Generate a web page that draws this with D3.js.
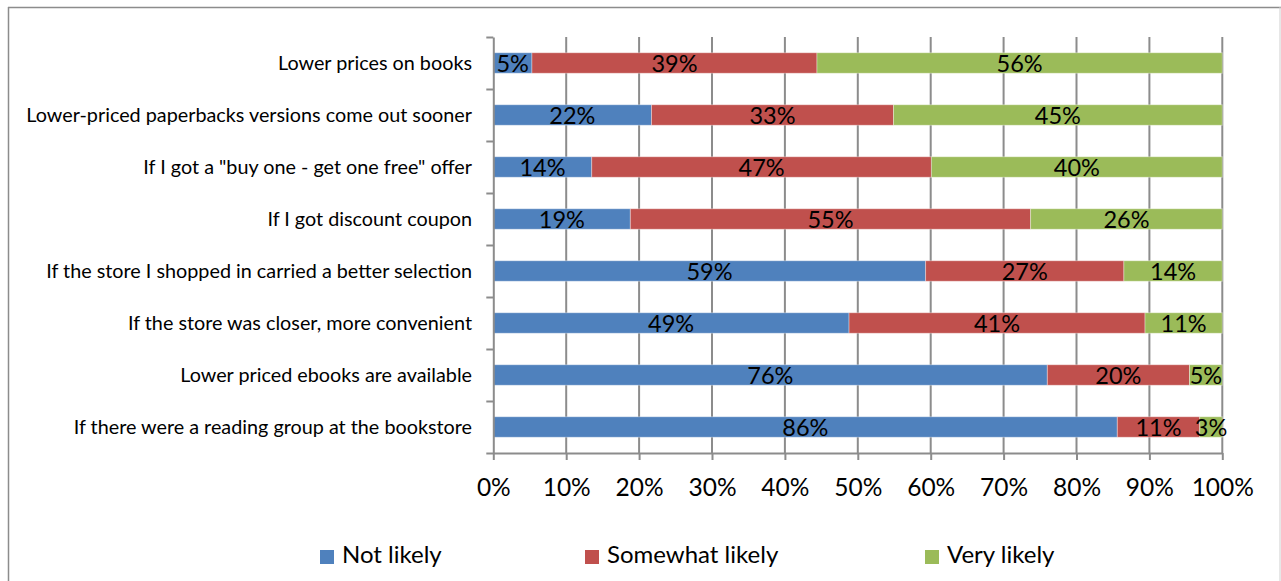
<!DOCTYPE html>
<html>
<head>
<meta charset="utf-8">
<script src="https://cdn.jsdelivr.net/npm/d3@7"></script>
<style>
  html, body { margin: 0; padding: 0; background: #fff; }
  svg { display: block; }
  text { font-family: Lato, "Open Sans", sans-serif; fill: #000; }
</style>
</head>
<body>
<svg id="chart" width="1281" height="581"></svg>
<script>
const categories = [
  "Lower prices on books",
  "Lower-priced paperbacks versions come out sooner",
  "If I got a \"buy one - get one free\" offer",
  "If I got discount coupon",
  "If the store I shopped in carried a better selection",
  "If the store was closer, more convenient",
  "Lower priced ebooks are available",
  "If there were a reading group at the bookstore"
];
const seriesNames = ["Not likely", "Somewhat likely", "Very likely"];
const seriesColors = ["#4F81BD", "#C0504D", "#9BBB59"];
const notLikely      = [5.3, 21.7, 13.5, 18.8, 59.3, 48.8, 76.0, 85.6];
const somewhatLikely = [39.1, 33.2, 46.6, 54.9, 27.2, 40.6, 19.5, 11.3];
const veryLikely     = [55.6, 45.1, 39.9, 26.3, 13.5, 10.6, 4.5, 3.1];
const xTicks = [0, 0.1, 0.2, 0.3, 0.4, 0.5, 0.6, 0.7, 0.8, 0.9, 1.0];

const seriesValues = [notLikely, somewhatLikely, veryLikely];
const svg = d3.select("#chart");
const W = 1281, H = 581;

// outer frame
svg.append("line").attr("x1", 8).attr("x2", 1281).attr("y1", 7.5).attr("y2", 7.5)
  .attr("stroke", "#8c8c8c").attr("stroke-width", 1.5);
svg.append("line").attr("x1", 8.5).attr("x2", 8.5).attr("y1", 7).attr("y2", H)
  .attr("stroke", "#8c8c8c").attr("stroke-width", 1.5);
svg.append("line").attr("x1", 1280).attr("x2", 1280).attr("y1", 7).attr("y2", H)
  .attr("stroke", "#cfcfcf").attr("stroke-width", 1);

const plot = { left: 493.3, right: 1222.3, top: 37, bottom: 453 };

const x = d3.scaleLinear().domain([0, 1]).range([plot.left, plot.right]);
const y = d3.scaleBand().domain(categories).range([plot.top, plot.bottom])
  .paddingInner(0.606).paddingOuter(0.303);
const yTickScale = d3.scaleLinear().domain([0, categories.length]).range([plot.top, plot.bottom]);

// gridlines
svg.append("g").selectAll("line").data(xTicks.slice(1)).join("line")
  .attr("x1", d => x(d)).attr("x2", d => x(d))
  .attr("y1", plot.top).attr("y2", plot.bottom)
  .attr("stroke", "#8c8c8c").attr("stroke-width", 2);

// stacked data (100% normalized)
const rows = categories.map((c, i) => {
  const vals = seriesValues.map(s => s[i]);
  const total = d3.sum(vals);
  let acc = 0;
  return vals.map((v, k) => {
    const seg = { cat: c, k, v, x0: acc / total, x1: (acc + v) / total };
    acc += v;
    return seg;
  });
}).flat();

svg.append("g").selectAll("rect").data(rows).join("rect")
  .attr("x", d => x(d.x0))
  .attr("width", d => x(d.x1) - x(d.x0))
  .attr("y", d => y(d.cat))
  .attr("height", y.bandwidth())
  .attr("fill", d => seriesColors[d.k])
  .attr("stroke", "#ffffff").attr("stroke-opacity", 0.35).attr("stroke-width", 1);

// data labels
svg.append("g").selectAll("text").data(rows).join("text")
  .attr("x", d => (x(d.x0) + x(d.x1)) / 2)
  .attr("y", d => y(d.cat) + y.bandwidth() / 2 + 8.5)
  .attr("text-anchor", "middle")
  .style("font-size", "23.5px")
  .text(d => Math.round(d.v) + "%");

// x axis
const xAxis = svg.append("g").attr("transform", `translate(0,${plot.bottom})`)
  .call(d3.axisBottom(x).tickValues(xTicks).tickFormat(d3.format(".0%")).tickSize(7).tickSizeOuter(0));
xAxis.select(".domain").attr("stroke", "#8c8c8c").attr("stroke-width", 2);
xAxis.selectAll(".tick line").attr("stroke", "#8c8c8c").attr("stroke-width", 2);
xAxis.selectAll(".tick text").attr("y", 0).attr("dy", 0)
  .attr("transform", "translate(0,43)")
  .style("font-size", "24.5px").style("font-family", "Lato, sans-serif").attr("fill", "#000");

// y axis (ticks between categories)
const yAxis = svg.append("g").attr("transform", `translate(${plot.left},0)`)
  .call(d3.axisLeft(yTickScale).tickValues(d3.range(categories.length + 1)).tickFormat("").tickSize(7).tickSizeOuter(0));
yAxis.select(".domain").attr("stroke", "#8c8c8c").attr("stroke-width", 2);
yAxis.selectAll(".tick line").attr("stroke", "#8c8c8c").attr("stroke-width", 2);

// category labels
svg.append("g").selectAll("text").data(categories).join("text")
  .attr("x", 472)
  .attr("y", d => y(d) + y.bandwidth() / 2 + 6.5)
  .attr("text-anchor", "end")
  .style("font-size", "19.8px")
  .text(d => d);

// legend
const legendX = [320, 585, 925];
const lg = svg.append("g").selectAll("g").data(seriesNames).join("g")
  .attr("transform", (d, i) => `translate(${legendX[i]},550)`);
lg.append("rect").attr("width", 14).attr("height", 14).attr("fill", (d, i) => seriesColors[i]);
lg.append("text").attr("x", 22).attr("y", 13).style("font-size", "24px").text(d => d);
</script>
</body>
</html>
